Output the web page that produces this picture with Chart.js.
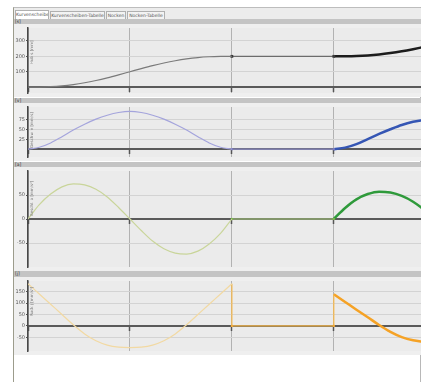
<!DOCTYPE html>
<html>
<head>
<meta charset="utf-8">
<script src="https://cdn.jsdelivr.net/npm/chart.js@4.4.1/dist/chart.umd.min.js"></script>
<style>
    body { margin: 0; width: 421px; height: 382px; background: #fff; position: relative; overflow: hidden; font-family: "DejaVu Sans", sans-serif; }
    .frame { position: absolute; left: 13px; top: 7px; width: 408px; height: 375px; border-left: 1px solid #9c9c8c; border-top: 1px solid #bdbdbd; border-right: 1px solid #b8b8b8; box-sizing: border-box; }
    .tabbar { position: absolute; left: 14px; top: 8px; width: 407px; height: 11px; background: #ececec; border-bottom: 1px solid #a8a8a8; }
    .tab { position: absolute; top: 11px; height: 8px; font-size: 4.5px; line-height: 8px; color: #555; background: #f3f3f3; border: 1px solid #b0b0b0; border-bottom: none; box-sizing: border-box; text-align: center; white-space: nowrap; overflow: hidden; }
    .tab.active { top: 10px; height: 10px; background: #fff; }
    .head { position: absolute; left: 14px; width: 407px; background: #c4c4c4; font-size: 4.5px; color: #333; line-height: 5px; }
    .head span { position: absolute; left: 1px; top: 0; }
    .panel { position: absolute; left: 14px; width: 407px; background: #efefef; }
    .ytitle { position: absolute; font-size: 4px; color: #777; white-space: nowrap; transform-origin: 0 0; transform: rotate(-90deg); }
</style>
</head>
<body>
<div class="frame"></div>
<div class="tabbar"></div>
<div class="tab active" style="left:15px;width:34px;">Kurvenscheibe</div>
<div class="tab" style="left:50px;width:55px;">Kurvenscheiben-Tabelle</div>
<div class="tab" style="left:106px;width:20px;">Nocken</div>
<div class="tab" style="left:127px;width:38px;">Nocken-Tabelle</div>

<div class="head" style="top:19px;height:5px;"><span>[s]</span></div>
<div class="panel" style="top:24px;height:73px;"><canvas id="hub"></canvas></div>
<div class="head" style="top:98px;height:5px;"><span>[v]</span></div>
<div class="panel" style="top:103px;height:58px;"><canvas id="geschw"></canvas></div>
<div class="head" style="top:162px;height:5px;"><span>[a]</span></div>
<div class="panel" style="top:167px;height:104px;"><canvas id="beschl"></canvas></div>
<div class="head" style="top:271px;height:6px;"><span>[j]</span></div>
<div class="panel" style="top:277px;height:78px;"><canvas id="ruck"></canvas></div>

<div class="ytitle" style="left:29px;top:64px;">Hub s [mm]</div>
<div class="ytitle" style="left:29px;top:148px;">Geschw. v [mm/s]</div>
<div class="ytitle" style="left:29px;top:216px;">Beschl. a [mm/s²]</div>
<div class="ytitle" style="left:29px;top:316px;">Ruck j [mm/s³]</div>

<script>
// Winkel (Grad) der Abschnitte
const seg1Angles = [0, 10, 20, 30, 40, 50, 60, 70, 80, 90, 100, 110, 120, 130, 140, 150, 160, 170, 180];
const seg2Angles = [270, 280, 290, 300, 310, 320, 330, 340, 350];
const dwellAngles = [180, 270];
const ruckDwellAngles = [180, 180, 270, 270];

// Hub
const hubSeg1 = [0, 0.5, 2.8, 7.8, 16.4, 28.4, 43.3, 60.6, 79.8, 100, 120.2, 139.4, 156.7, 171.6, 183.6, 192.2, 197.2, 199.5, 200];
const hubDwell = [200, 200];
const hubSeg2 = [200, 200.4, 202.1, 206, 212.6, 221.9, 233.3, 246.7, 261.4];

// Geschwindigkeit
const geschwSeg1 = [0, 5, 16, 32, 49, 64, 77, 87, 94, 97, 94, 87, 77, 64, 49, 32, 16, 5, 0];
const geschwDwell = [0, 0];
const geschwSeg2 = [0, 4, 13, 26, 39, 51, 62, 70, 75];

// Beschleunigung
const beschlSeg1 = [0, 30, 52, 67, 73, 71, 62, 46, 24, 0, -24, -46, -62, -71, -73, -67, -52, -30, 0];
const beschlDwell = [0, 0];
const beschlSeg2 = [0, 23, 41, 52, 57, 55, 48, 36, 19];

// Ruck
const ruckSeg1 = [185, 140, 95, 50, 5, -35, -65, -84, -93, -95, -93, -84, -65, -35, 5, 50, 95, 140, 185];
const ruckDwell = [185, 0, 0, 139];
const ruckSeg2 = [139, 105, 71, 38, 4, -26, -49, -63, -70];

// Achsen
const xTicks = [0, 90, 180, 270];
const hubTicks = [0, 50, 100, 150, 200, 250, 300, 350];
const hubLabels = [100, 200, 300];
const geschwTicks = [0, 25, 50, 75, 100];
const geschwLabels = [25, 50, 75];
const beschlTicks = [-100, -50, 0, 50, 100];
const beschlLabels = [-50, 0, 50];
const ruckTicks = [-100, -50, 0, 50, 100, 150, 200];
const ruckLabels = [-50, 0, 50, 100, 150];

const toPoints = (xs, ys) => xs.map((x, i) => ({ x, y: ys[i] }));

// Hintergrund der Zeichenflaeche
const plotBackground = {
    id: 'plotBackground',
    beforeDraw(chart) {
        const { ctx, chartArea: a } = chart;
        ctx.save();
        ctx.fillStyle = '#ebebeb';
        ctx.fillRect(a.left, a.top, a.right - a.left, a.bottom - a.top);
        ctx.restore();
    }
};

function createPanel(canvasId, p) {
    const ctx = document.getElementById(canvasId).getContext('2d');
    return new Chart(ctx, {
        type: 'line',
        data: {
            datasets: [
                {
                    data: toPoints(seg1Angles, p.seg1),
                    borderColor: p.colors[0],
                    borderWidth: 1.2,
                    pointRadius: 0,
                    cubicInterpolationMode: 'monotone'
                },
                {
                    data: toPoints(p.dwellX, p.dwell),
                    borderColor: p.colors[1],
                    borderWidth: 1.2,
                    tension: 0,
                    pointRadius: p.markers,
                    pointStyle: 'rect',
                    pointBackgroundColor: p.markerColor,
                    pointBorderWidth: 0
                },
                {
                    data: toPoints(seg2Angles, p.seg2),
                    borderColor: p.colors[2],
                    borderWidth: 2.5,
                    pointRadius: 0,
                    cubicInterpolationMode: 'monotone'
                }
            ]
        },
        options: {
            responsive: true,
            maintainAspectRatio: false,
            animation: false,
            layout: { padding: 0, autoPadding: false },
            plugins: { legend: { display: false }, tooltip: { enabled: false } },
            scales: {
                x: {
                    type: 'linear',
                    min: 0,
                    max: 347,
                    position: { y: 0 },
                    afterBuildTicks: ax => { ax.ticks = xTicks.map(v => ({ value: v })); },
                    afterFit: ax => { ax.height = 0; },
                    ticks: { display: false },
                    grid: { color: '#b2b2b2', lineWidth: 1, tickLength: 4, tickColor: '#555', tickWidth: 1.5 },
                    border: { color: '#5a5a5a', width: 2 }
                },
                y: {
                    min: p.min,
                    max: p.max,
                    afterBuildTicks: ax => { ax.ticks = p.ticks.map(v => ({ value: v })); },
                    afterFit: ax => { ax.width = 14; },
                    ticks: {
                        font: { size: 5, family: 'DejaVu Sans' },
                        color: '#555',
                        padding: 1,
                        callback: v => p.labels.includes(v) ? String(v) : null
                    },
                    grid: { color: '#d3d3d3', lineWidth: 1, tickLength: 2, tickColor: '#555' },
                    border: { color: '#484848', width: 1.5 }
                }
            }
        },
        plugins: [plotBackground]
    });
}

createPanel('hub', {
    seg1: hubSeg1, dwell: hubDwell, seg2: hubSeg2, dwellX: dwellAngles,
    colors: ['#7a7a7a', '#6c6c6c', '#1c1c1c'], markers: 2, markerColor: '#3a3a3a',
    min: -38, max: 384, ticks: hubTicks, labels: hubLabels
});
createPanel('geschw', {
    seg1: geschwSeg1, dwell: geschwDwell, seg2: geschwSeg2, dwellX: dwellAngles,
    colors: ['#a4a4dc', '#8c8cc8', '#3556b4'], markers: 1.5, markerColor: '#7c7cc0',
    min: -20, max: 108, ticks: geschwTicks, labels: geschwLabels
});
createPanel('beschl', {
    seg1: beschlSeg1, dwell: beschlDwell, seg2: beschlSeg2, dwellX: dwellAngles,
    colors: ['#c9d59a', '#a9cf7c', '#2f9a3b'], markers: 1.5, markerColor: '#7cba4c',
    min: -100, max: 100, ticks: beschlTicks, labels: beschlLabels
});
createPanel('ruck', {
    seg1: ruckSeg1, dwell: ruckDwell, seg2: ruckSeg2, dwellX: ruckDwellAngles,
    colors: ['#f2d9a2', '#f6b84c', '#f5a225'], markers: [0, 1.5, 1.5, 0], markerColor: '#f0a838',
    min: -110, max: 197, ticks: ruckTicks, labels: ruckLabels
});
</script>
</body>
</html>
